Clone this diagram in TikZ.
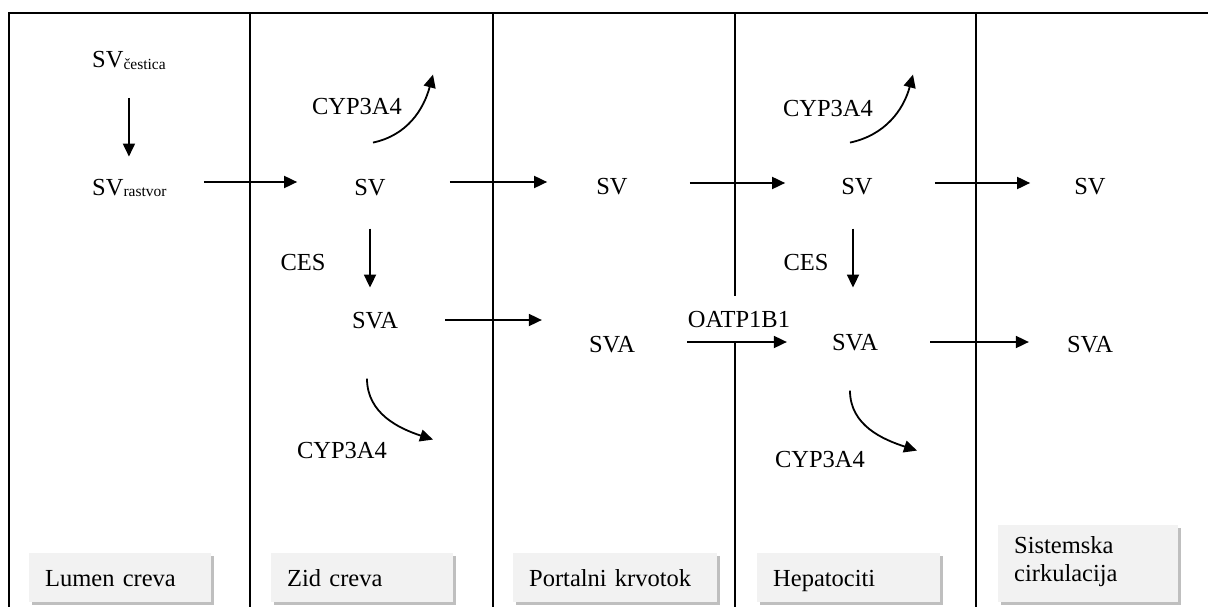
\documentclass[tikz,border=0pt]{standalone}
\usepackage{fontspec}
\setmainfont{Liberation Serif}
\usetikzlibrary{arrows.meta,calc,shadows}

\definecolor{boxfill}{HTML}{F2F2F2}
\definecolor{boxshade}{HTML}{BFBFBF}

\newcommand{\sub}[1]{\raisebox{-1.5pt}{\fontsize{15.5}{18}\selectfont #1}}

\begin{document}
\begin{tikzpicture}[x=1pt,y=-1pt,
  txt/.style={font=\fontsize{24.5}{29}\selectfont, inner sep=0pt, anchor=base},
  sepline/.style={line width=1.6pt},
  arr/.style={line width=1.8pt, -{Triangle[length=13pt,width=12pt]}},
  zonebox/.style={fill=boxfill, font=\fontsize{24.5}{28}\selectfont,
    anchor=north west, inner xsep=16pt, inner ysep=0pt, align=left,
    drop shadow={shadow xshift=3pt, shadow yshift=-3pt, fill=boxshade, opacity=1}},
  oneline/.style={minimum height=49pt, text height=17pt, text depth=0pt}
]
\useasboundingbox (0,0) rectangle (1208,607);

% frame and column separators
\draw[sepline] (9,607) -- (9,13) -- (1208,13);
\foreach \x in {250,493,735,976}
  \draw[sepline] (\x,13) -- (\x,607);

% zone labels
\node[zonebox, oneline, text width=150pt] (lumen) at (29,553) {Lumen creva};
\node[zonebox, oneline, text width=150pt] (zid) at (271,553) {Zid creva};
\node[zonebox, oneline, text width=172pt] (portal) at (513,553) {Portalni krvotok};
\node[zonebox, oneline, text width=151pt] (hepat) at (757,553) {Hepatociti};
\node[zonebox, text width=148pt, minimum height=77pt, text height=17pt, text depth=38pt] (sist) at (998,525) {Sistemska\\cirkulacija};

% species
\node[txt, anchor=base west] (cest) at (92,68) {SV\sub{čestica}};
\node[txt, anchor=base west] (rast) at (92,195) {SV\sub{rastvor}};

\node[txt] (zsv)  at (370,195) {SV};
\node[txt] (psv)  at (612,194) {SV};
\node[txt] (hsv)  at (857,194) {SV};
\node[txt] (ssv)  at (1090,194) {SV};

\node[txt] (zsva) at (375,328) {SVA};
\node[txt] (psva) at (612,352) {SVA};
\node[txt] (hsva) at (855,350) {SVA};
\node[txt] (ssva) at (1090,352) {SVA};

% enzymes and transporter
\node[txt] (zcyp1) at (357,115) {CYP3A4};
\node[txt] (hcyp1) at (828,117) {CYP3A4};
\node[txt] (zcyp2) at (342,458) {CYP3A4};
\node[txt] (hcyp2) at (820,467) {CYP3A4};
\node[txt] (zces)  at (303,270) {CES};
\node[txt] (hces)  at (806,270) {CES};
\node[txt, fill=white, inner xsep=2pt, inner ysep=15pt] (oatp) at (739,327) {OATP1B1};

% row levels of the horizontal transfers
\coordinate (r1) at (0,182);
\coordinate (r2) at (0,183);
\coordinate (r3) at (0,320);
\coordinate (r4) at (0,342);

% dissolution
\draw[arr] ($(cest.south)+(0,28)$) -- ($(cest.south |- rast.north)+(0,-22)$);

% transport of the parent drug
\draw[arr] ([xshift=37pt]rast.east |- r1) -- ([xshift=-57pt]zsv.west |- r1);
\draw[arr] ([xshift=64pt]zsv.east |- r1) -- ([xshift=-49pt]psv.west |- r1);
\draw[arr] ([xshift=62pt]psv.east |- r2) -- ([xshift=-56pt]hsv.west |- r2);
\draw[arr] ([xshift=62pt]hsv.east |- r2) -- ([xshift=-44pt]ssv.west |- r2);

% transport of the acid
\draw[arr] ([xshift=47pt]zsva.east |- r3) -- ([xshift=-47pt]psva.west |- r3);
\draw[arr] ([xshift=52pt]psva.east |- r4) -- ([xshift=-45pt]hsva.west |- r4);
\draw[arr] ([xshift=52pt]hsva.east |- r4) -- ([xshift=-38pt]ssva.west |- r4);

% hydrolysis by CES
\draw[arr] ($(zsv.south)+(0,33)$) -- ($(zsv.south |- zsva.north)+(0,-24)$);
\draw[arr] ($(hsv.south)+(-4,34)$) -- ($(hsv.south |- hsva.north)+(-4,-46)$);

% CYP3A4 metabolism
\draw[arr] ($(zsv.north)+(3,-36)$) to[out=12,in=-105] ($(zsv.north)+(63,-104)$);
\draw[arr] ($(hsv.north)+(-7,-35)$) to[out=12,in=-105] ($(hsv.north)+(56,-103)$);
\draw[arr] ($(zsva.south)+(-8,50)$) to[out=-90,in=162] ($(zsva.south)+(58,111)$);
\draw[arr] ($(hsva.south)+(-5,40)$) to[out=-90,in=162] ($(hsva.south)+(62,100)$);
\end{tikzpicture}
\end{document}
